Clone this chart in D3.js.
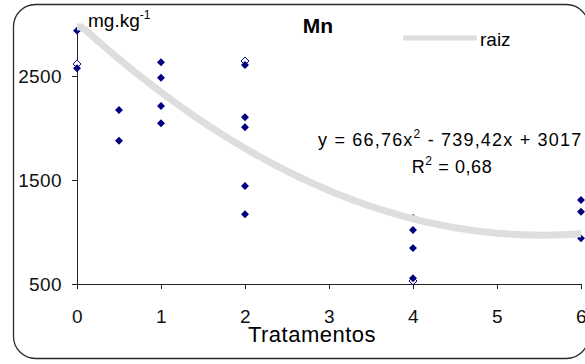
<!DOCTYPE html>
<html>
<head>
<meta charset="utf-8">
<script src="https://cdn.jsdelivr.net/npm/d3@7"></script>
<style>
  body { margin: 0; background: #fff; }
  svg { font-family: "Liberation Sans", Arial, sans-serif; }
</style>
</head>
<body>
<svg id="chart" width="585" height="364"></svg>
<script>
// treatment levels and measured Mn in roots (mg/kg)
const doses = [0, 0, 0, 0.5, 0.5, 1, 1, 1, 1, 2, 2, 2, 2, 2, 2, 4, 4, 4, 4, 4, 6, 6, 6];
const mnValues = [2936, 2615, 2574, 2173, 1878, 2632, 2484, 2212, 2045, 2644, 2606, 2103, 2007, 1442, 1170, 1135, 1019, 845, 555, 529, 1308, 1195, 939];
// points that show up as hollow markers
const hollow = [1, 9, 19];
const xTicks = [0, 1, 2, 3, 4, 5, 6];
const yTicks = [500, 1500, 2500];
// fitted quadratic: y = a x^2 + b x + c
const coef = { a: 66.76, b: -739.42, c: 3017 };

const svg = d3.select("#chart");

// rounded chart frame
svg.append("rect")
  .attr("x", 13.5).attr("y", 4.5)
  .attr("width", 575).attr("height", 354)
  .attr("rx", 22).attr("ry", 22)
  .attr("fill", "#fff")
  .attr("stroke", "#2a2a2a")
  .attr("stroke-width", 1.3);

const x = d3.scaleLinear().domain([0, 6]).range([77, 581]);
const y = d3.scaleLinear().domain([500, 3000]).range([284, 24]);

// axes
const xAxis = svg.append("g")
  .attr("transform", `translate(0,${y(500)})`)
  .call(d3.axisBottom(x).tickValues(xTicks).tickFormat(d3.format("d"))
    .tickSize(5).tickSizeOuter(0).tickPadding(21));
const yAxis = svg.append("g")
  .attr("transform", `translate(${x(0)},0)`)
  .call(d3.axisLeft(y).tickValues(yTicks).tickFormat(d3.format("d"))
    .tickSize(5).tickSizeOuter(0).tickPadding(10));
[xAxis, yAxis].forEach(g => {
  g.select(".domain").attr("stroke", "#222");
  g.selectAll(".tick line").attr("stroke", "#222");
  g.selectAll(".tick text")
    .attr("fill", "#111")
    .style("font-size", "19px")
    .style("letter-spacing", "0.4px")
    .style("font-family", "Liberation Sans, Arial, sans-serif");
});
yAxis.selectAll(".tick text").attr("dy", "0.35em");

// points (hollow ones first so the filled ones sit on top)
const pts = doses.map((d, i) => ({ d: d, v: mnValues[i], i: i }));
const diamond = d3.symbol().type(d3.symbolDiamond2).size(40);
svg.append("g")
  .selectAll("path")
  .data(pts.filter(p => hollow.includes(p.i)))
  .join("path")
  .attr("d", diamond)
  .attr("transform", p => `translate(${x(p.d)},${y(p.v)})`)
  .attr("fill", "#fff")
  .attr("stroke", "#000080")
  .attr("stroke-width", 1);
svg.append("g")
  .selectAll("path")
  .data(pts.filter(p => !hollow.includes(p.i)))
  .join("path")
  .attr("d", diamond)
  .attr("transform", p => `translate(${x(p.d)},${y(p.v)})`)
  .attr("fill", "#000080");

// trend line, drawn over the points
const fit = d3.range(0, 6.001, 0.05).map(t => [t, coef.a * t * t + coef.b * t + coef.c]);
svg.append("path")
  .datum(fit)
  .attr("d", d3.line().x(d => x(d[0])).y(d => y(Math.min(d[1], 2970))))
  .attr("fill", "none")
  .attr("stroke", "#dedede")
  .attr("stroke-width", 7);

// title, unit and axis title
svg.append("text")
  .attr("x", 318).attr("y", 33)
  .attr("text-anchor", "middle")
  .style("font-size", "21px").style("font-weight", "bold")
  .text("Mn");

const unit = svg.append("text")
  .attr("x", 88).attr("y", 27)
  .style("font-size", "19px");
unit.append("tspan").text("mg.kg");
unit.append("tspan").attr("dy", -8).style("font-size", "12px").text("-1");

svg.append("text")
  .attr("x", 312).attr("y", 342)
  .attr("text-anchor", "middle")
  .style("font-size", "22px")
  .style("letter-spacing", "0.5px")
  .text("Tratamentos");

// legend
svg.append("line")
  .attr("x1", 403).attr("x2", 477)
  .attr("y1", 38).attr("y2", 38)
  .attr("stroke", "#dedede").attr("stroke-width", 5);
svg.append("text")
  .attr("x", 480).attr("y", 46)
  .style("font-size", "19px")
  .text("raiz");

// equation of the fit
const eq = svg.append("text")
  .attr("x", 318).attr("y", 146)
  .style("font-size", "18px")
  .style("letter-spacing", "1.2px");
eq.append("tspan").text("y = 66,76x");
eq.append("tspan").attr("dy", -8).style("font-size", "12px").text("2");
eq.append("tspan").attr("dy", 8).text(" - 739,42x + 3017");

const r2 = svg.append("text")
  .attr("x", 452).attr("y", 173)
  .attr("text-anchor", "middle")
  .style("font-size", "18px")
  .style("letter-spacing", "0.6px");
r2.append("tspan").text("R");
r2.append("tspan").attr("dy", -8).style("font-size", "12px").text("2");
r2.append("tspan").attr("dy", 8).text(" = 0,68");
</script>
</body>
</html>
